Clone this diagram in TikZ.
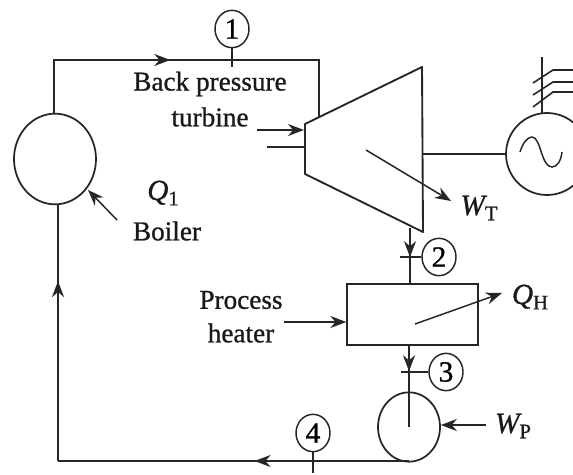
\documentclass[tikz,border=0pt]{standalone}
\usepackage{fontspec}
\setmainfont{Liberation Serif}
\usetikzlibrary{arrows.meta,shapes.geometric,decorations.markings}
\newcommand{\heavy}{\addfontfeature{FakeBold=0.9}}
\newcommand{\symb}[2]{{\fontsize{22}{22}\selectfont\itshape\heavy #1}\raisebox{-4pt}{\fontsize{15.5}{16}\selectfont\heavy #2}}
\tikzset{
  x=0.75pt,y=-0.75pt,
  pipe/.style={draw=black!85,line width=1.4pt},
  thin pipe/.style={draw=black!85,line width=1.1pt},
  tip/.style={-{Stealth[length=12pt,width=9pt]}},
  mark at/.style={postaction={decorate},decoration={markings,mark=at position #1 with {\arrow{Stealth[length=12pt,width=9pt]}}}},
  state/.style={ellipse,draw=black!85,line width=1.1pt,minimum width=25.5pt,minimum height=28pt,inner sep=0pt,font=\fontsize{22}{22}\selectfont\heavy},
  label/.style={inner sep=0pt,font=\fontsize{20.4}{22}\selectfont\heavy,text=black!90,align=center},
  unit/.style={ellipse,draw=black!85,line width=1.3pt,inner sep=0pt},
}
\begin{document}
\begin{tikzpicture}
\clip (0,0) rectangle (573,474);
\fill[white] (0,0) rectangle (573,474);
% components
\node[unit,minimum width=61.5pt,minimum height=68pt] (boiler) at (55,159) {};
\node[unit,minimum width=61.5pt,minimum height=61.5pt] (gen) at (547,154) {};
\node[unit,minimum width=46.5pt,minimum height=52pt] (pump) at (409,427) {};
\node[draw=black!85,line width=1.3pt,minimum width=98pt,minimum height=45.5pt,inner sep=0pt] (heater) at (412.5,314.5) {};
\coordinate (t1) at (305,124);
\coordinate (t2) at (422,67);
\coordinate (t3) at (423,232);
\coordinate (t4) at (305,174);
\draw[pipe,line join=round] (t1) -- (t2) -- (t3) -- (t4) -- cycle;
% state circles
\node[state] (s1) at (232,29) {1};
\node[state] (s2) at (439,257) {2};
\node[state] (s3) at (446,372) {3};
\node[state] (s4) at (313,433) {4};
% main loop
\coordinate (c1) at (54,60);
\coordinate (c2) at (319,60);
\coordinate (c3) at (319,118);
\draw[pipe,mark at=0.45] (boiler.north -| c1) -- (c1) -- (c2) -- (c3);
\coordinate (tout) at (410,228);
\coordinate (hin) at (410,284);
\draw[thin pipe,mark at=0.52] (tout) -- (hin);
\coordinate (hout) at (409,345);
\draw[thin pipe,mark at=0.32] (hout) -- (pump.center);
\coordinate (pout) at (409,461);
\coordinate (c4) at (58,461);
\coordinate (bin) at (58,204);
\draw[pipe,mark at=0.44] (pout) -- (c4);
\draw[pipe,mark at=0.7] (c4) -- (bin);
% state ticks
\coordinate (k1) at (232,67);
\draw[thin pipe] (s1) -- (k1);
\coordinate (k2) at (400,257);
\draw[thin pipe] (s2) -- (k2);
\coordinate (k3) at (401,372);
\draw[thin pipe] (s3) -- (k3);
\coordinate (k4) at (313,473);
\draw[thin pipe] (s4) -- (k4);
% generator
\draw[thin pipe] (t2 |- gen.west) -- (gen.west);
\coordinate (g0) at (542,57);
\coordinate (g1) at (542,113);
\draw[thin pipe] (g0) -- (g1);
\draw[thin pipe,line width=1.2pt] (533,83) -- (553,70) -- (573,70);
\draw[thin pipe,line width=1.2pt] (533,95) -- (553,82) -- (573,82);
\draw[thin pipe,line width=1.2pt] (533,107) -- (553,92) -- (573,92);
\draw[thin pipe] (520,152) .. controls (523,142) and (528,137) .. (532,137) .. controls (541,137) and (541,167) .. (552,167) .. controls (557,167) and (561,161) .. (562,152);
% labels
\node[label] (bp) at (210,84) {Back pressure};
\node[label] (tb) at (210,117) {turbine};
\node[label] (bl) at (167,231) {Boiler};
\node[label] (q1) at (163,193) {\symb{Q}{1}};
\node[label] (wt) at (479,208) {\symb{W}{T}};
\node[label] (qh) at (530,297) {\symb{Q}{H}};
\node[label] (wp) at (513,426) {\symb{W}{P}};
\node[label] (ph) at (241,300) {Process};
\node[label] (ht) at (241,333) {heater};
% pointers
\coordinate (a1) at (257,130);
\coordinate (a1e) at (304,130);
\draw[thin pipe,tip] (a1) -- (a1e);
\coordinate (a2) at (267,147);
\coordinate (a2e) at (304,147);
\draw[thin pipe] (a2) -- (a2e);
\coordinate (a3) at (117,220);
\coordinate (a3e) at (88,190);
\draw[thin pipe,tip] (a3) -- (a3e);
\coordinate (a4) at (366,150);
\coordinate (a4e) at (451,201);
\draw[thin pipe,tip] (a4) -- (a4e);
\coordinate (a5) at (284,322);
\draw[thin pipe,tip] (a5) -- (heater.west |- a5);
\coordinate (a6) at (415,324);
\coordinate (a6e) at (502,293);
\draw[thin pipe,tip] (a6) -- (a6e);
\coordinate (a7) at (486,425);
\draw[thin pipe,tip] (a7) -- (pump.east |- a7);
\end{tikzpicture}
\end{document}
